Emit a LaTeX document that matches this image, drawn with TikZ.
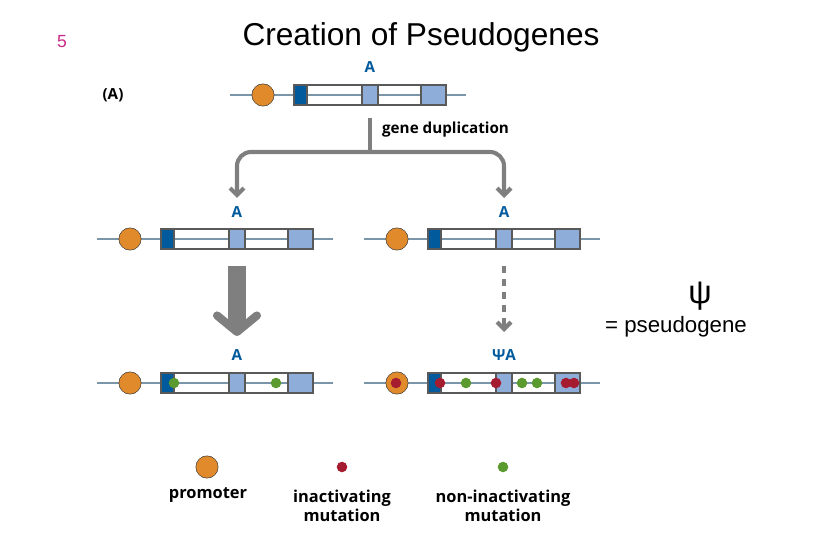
\documentclass[tikz,border=0pt]{standalone}
\usepackage{fontspec}
\setmainfont{Liberation Sans}
\newfontfamily\lblfont{Open Sans}
\usetikzlibrary{arrows.meta}
\definecolor{geneblue}{HTML}{005A9C}
\definecolor{lightexon}{HTML}{8EADD9}
\definecolor{promo}{HTML}{E08A2C}
\definecolor{mutred}{HTML}{A51C30}
\definecolor{mutgreen}{HTML}{5A9A2E}
\definecolor{linegray}{HTML}{7A96A8}
\definecolor{arrgray}{HTML}{7F7F7F}
\tikzset{
  dna/.style={linegray,line width=2.2pt},
  box/.style={draw=gray!70!black,line width=1pt},
  promoter/.style={circle,draw=black!80,fill=promo,minimum size=19pt,inner sep=0pt},
  dot/.style={circle,fill=#1,minimum size=9pt,inner sep=0pt},
  genelabel/.style={text=geneblue,font=\lblfont\bfseries\fontsize{13}{15}\selectfont},
  legend/.style={align=center,font=\lblfont\bfseries\fontsize{14}{16}\selectfont},
  flow/.style={arrgray,line width=3.5pt,rounded corners=12pt}
}
% one gene: name, left end of box, y
\newcommand{\genebar}[3]{%
  \draw[dna] (#2-64,#3)--(#2+172,#3);
  \node[promoter] (#1p) at (#2-31,#3) {};
  \fill[geneblue] (#2,#3-10) rectangle (#2+13,#3+10);
  \fill[lightexon] (#2+68,#3-10) rectangle (#2+84,#3+10);
  \fill[lightexon] (#2+127,#3-10) rectangle (#2+152,#3+10);
  \draw[box] (#2,#3-10) rectangle (#2+152,#3+10);
  \draw[box] (#2+13,#3-10)--(#2+13,#3+10) (#2+68,#3-10)--(#2+68,#3+10)
    (#2+84,#3-10)--(#2+84,#3+10) (#2+127,#3-10)--(#2+127,#3+10);
  \coordinate (#1) at (#2+76,#3);
}
\begin{document}
\begin{tikzpicture}[x=0.03cm,y=-0.03cm]
	\useasboundingbox (0,0) rectangle (829,541);
	%TITLE
	\node[text=magenta!80!black,font=\fontsize{15}{17}\selectfont] (num) at (62,42) {5};
	\node[font=\fontsize{27}{30}\selectfont] (title) at (421,37) {Creation of Pseudogenes};
	\node[font=\lblfont\bfseries\fontsize{13}{15}\selectfont] (panel) at (113,95) {(A)};
	
	%GENES
	\genebar{top}{294}{95}
	\node[genelabel] (topA) at (370,67) {A};
	\genebar{left}{161}{239}
	\node[genelabel] (leftA) at (237,212) {A};
	\genebar{right}{428}{239}
	\node[genelabel] (rightA) at (504,212) {A};
	\genebar{bl}{161}{383}
	\node[genelabel] (blA) at (237,355) {A};
	\genebar{br}{428}{383}
	\node[genelabel] (brA) at (504,355) {ΨA};
	
	%MUTATIONS
	\foreach \x in {174,276}
		\node[dot=mutgreen] at (\x,383) {};
	\foreach \x in {466,522,537}
		\node[dot=mutgreen] at (\x,383) {};
	\foreach \x in {396,440,496,566,574}
		\node[dot=mutred] at (\x,383) {};
	
	%DUPLICATION
	\coordinate (split) at (370,118);
	\coordinate (fork) at (370,152);
	\draw[flow] (split)--(fork);
	\draw[flow,-{Straight Barb[length=6pt,width=12pt]}] (fork)--(237,152)--(237,198);
	\draw[flow,-{Straight Barb[length=6pt,width=12pt]}] (fork)--(504,152)--(504,198);
	\node[anchor=west,font=\lblfont\bfseries\fontsize{13}{15}\selectfont] (dup) at (378,130) {gene duplication};
	
	%DOWN ARROWS
	\coordinate (bigtop) at (237,266);
	\coordinate (bigbot) at (237,336);
	\draw[arrgray,line width=15pt,-{Straight Barb[length=14pt,width=34pt,line width=7pt,round]}] (bigtop)--(bigbot);
	\coordinate (dottop) at (504,266);
	\coordinate (dotbot) at (504,332);
	\draw[arrgray,line width=3.5pt,dash pattern=on 6pt off 5pt] (dottop)--(504,322);
	\draw[arrgray,line width=3.5pt,-{Straight Barb[length=6pt,width=12pt]}] (504,322)--(dotbot);
	
	%PSI NOTE
	\node[font=\fontsize{28}{30}\selectfont] (psi) at (700,296) {ψ};
	\node[font=\fontsize{19}{22}\selectfont] (psinote) at (676,327) {= pseudogene};
	
	%LEGEND
	\node[promoter] (legp) at (207,467) {};
	\node[dot=mutred] (legr) at (342,467) {};
	\node[dot=mutgreen] (legg) at (503,467) {};
	\node[legend] at (208,495) {promoter};
	\node[legend] at (342,506) {inactivating\\mutation};
	\node[legend] at (503,506) {non-inactivating\\mutation};
\end{tikzpicture}
\end{document}
